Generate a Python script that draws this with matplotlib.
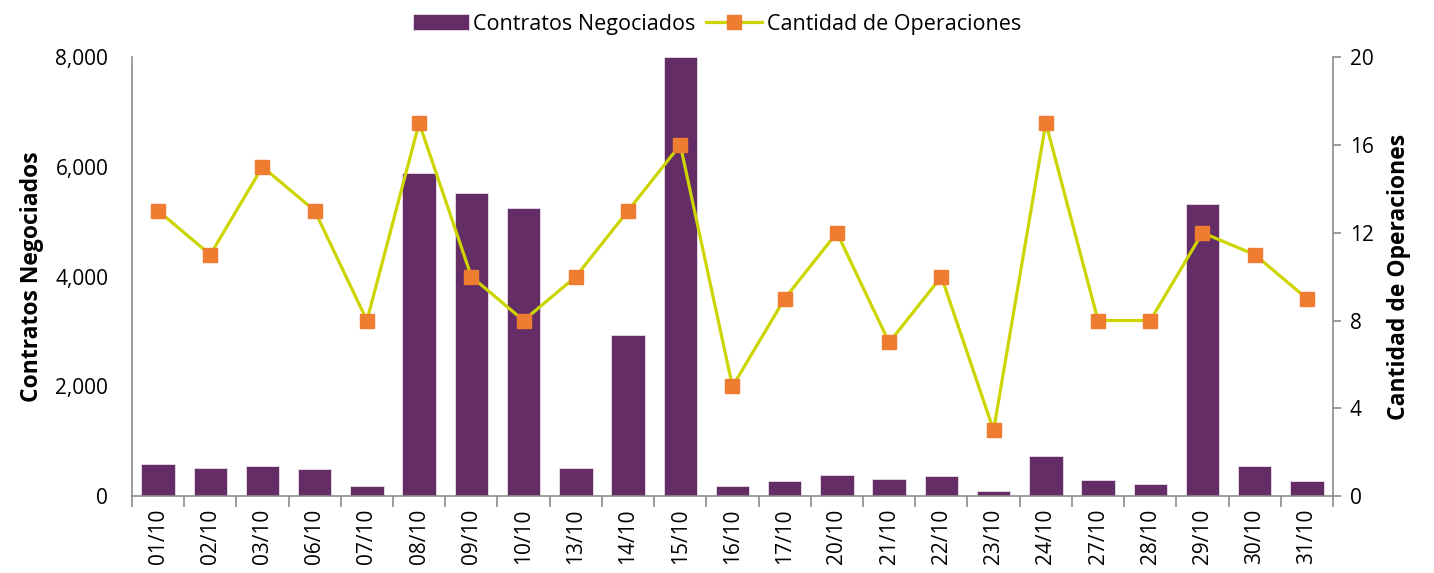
import matplotlib.pyplot as plt
import numpy as np
from matplotlib.ticker import FuncFormatter

plt.rcParams["font.family"] = ["Open Sans", "DejaVu Sans"]

fechas = ["01/10", "02/10", "03/10", "06/10", "07/10", "08/10", "09/10", "10/10",
          "13/10", "14/10", "15/10", "16/10", "17/10", "20/10", "21/10", "22/10",
          "23/10", "24/10", "27/10", "28/10", "29/10", "30/10", "31/10"]
contratos = [590, 510, 550, 490, 180, 5880, 5520, 5250, 510, 2930, 8000, 185,
             285, 380, 310, 370, 90, 735, 290, 230, 5320, 555, 270]
operaciones = [13, 11, 15, 13, 8, 17, 10, 8, 10, 13, 16, 5, 9, 12, 7, 10, 3,
               17, 8, 8, 12, 11, 9]

color_barra = "#642D65"
color_linea = "#CCD500"
color_marca = "#EE7D31"
gris = "#8C8C8C"

fig = plt.figure(figsize=(14.34, 5.73), dpi=100)
ax = fig.add_axes([0.092, 0.134, 0.8376, 0.7665])
x = np.arange(len(fechas))
b = ax.bar(x, contratos, width=0.64, color=color_barra, edgecolor="#E8DDE8",
           linewidth=0.6, label="Contratos Negociados", zorder=2)
ax.set_xlim(-0.5, len(fechas) - 0.5)
ax.set_ylim(0, 8000)
ax.set_yticks(np.arange(0, 8001, 2000))
ax.yaxis.set_major_formatter(FuncFormatter(lambda v, p: f"{v:,.0f}"))
ax.tick_params(axis="y", length=0, labelsize=15, pad=17)
ax.set_xticks(x)
ax.set_xticklabels(fechas, rotation=90, fontsize=15)
ax.set_xticks(np.arange(-0.5, len(fechas)), minor=True)
ax.tick_params(axis="x", which="major", length=0, pad=9)
ax.tick_params(axis="x", which="minor", length=8, color=gris, width=1.2)
ax.set_ylabel("Contratos Negociados", fontsize=16.5, fontweight="bold", labelpad=8)
for s in ["top", "right"]:
    ax.spines[s].set_visible(False)
for s in ["left", "bottom"]:
    ax.spines[s].set_color(gris)
    ax.spines[s].set_linewidth(1.2)

ax2 = ax.twinx()
l, = ax2.plot(x, operaciones, color=color_linea, linewidth=2.3, marker="s",
              markersize=10.5, markerfacecolor=color_marca, markeredgecolor=color_marca,
              label="Cantidad de Operaciones", zorder=3)
ax2.set_ylim(0, 20)
ax2.set_yticks(np.arange(0, 21, 4))
ax2.tick_params(axis="y", length=6, color=gris, width=1.2, labelsize=15, pad=6)
ax2.set_ylabel("Cantidad de Operaciones", fontsize=16.5, fontweight="bold", labelpad=10)
for s in ["top", "left", "bottom"]:
    ax2.spines[s].set_visible(False)
ax2.spines["right"].set_color(gris)
ax2.spines["right"].set_linewidth(1.2)

fig.legend([b, l], ["Contratos Negociados", "Cantidad de Operaciones"],
           loc="upper center", bbox_to_anchor=(0.5, 1.01), ncol=2, frameon=False,
           fontsize=15.5, handlelength=2.6, handleheight=0.8, columnspacing=0.5,
           handletextpad=0.2)

plt.savefig("out.png")
